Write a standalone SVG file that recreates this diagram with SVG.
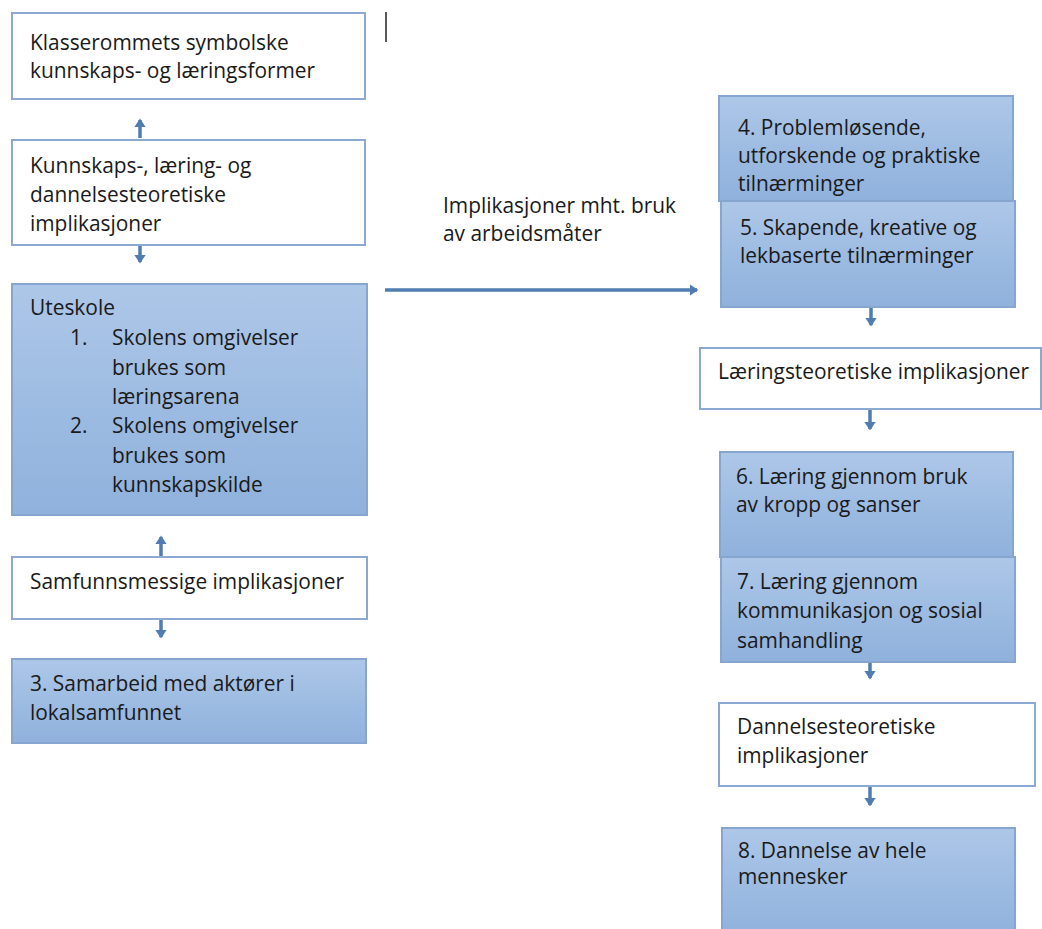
<svg xmlns="http://www.w3.org/2000/svg" width="1042" height="929" viewBox="0 0 1042 929">
<style>
.w{fill:#ffffff;stroke:#8aaad3;stroke-width:2}
.b{fill:url(#g);stroke:#86a6cf;stroke-width:2}
text{font-family:"Open Sans","Liberation Sans",sans-serif;font-size:20.9px;fill:#1a1a1a}
.c{stroke:#4f7db1;stroke-width:3.5;fill:none}
</style>
<defs>
<linearGradient id="g" x1="0" y1="0" x2="0" y2="1">
<stop offset="0" stop-color="#adc7e8"/>
<stop offset="1" stop-color="#8fb1dc"/>
</linearGradient>
<marker id="a" markerWidth="4" markerHeight="4" refX="2" refY="2" orient="auto" markerUnits="strokeWidth">
<path d="M0,0.4 L2.4,2 L0,3.6 Z" fill="#4f7db1"/>
</marker>
</defs>
<line x1="386" y1="12" x2="386" y2="42" stroke="#222" stroke-width="1.5"/>
<g id="n1"><rect class="w" x="12" y="13" width="353" height="86"/>
<text x="30" y="50">Klasserommets symbolske</text><text x="30" y="78">kunnskaps- og læringsformer</text></g>
<g id="n2"><rect class="w" x="12" y="140" width="353" height="105"/>
<text x="30" y="173">Kunnskaps-, læring- og</text><text x="30" y="202">dannelsesteoretiske</text><text x="30" y="231">implikasjoner</text></g>
<g id="n3"><rect class="b" x="12" y="284" width="355" height="231"/>
<text x="30" y="315">Uteskole</text>
<text x="70" y="345">1.</text><text x="112" y="345">Skolens omgivelser</text>
<text x="112" y="375">brukes som</text><text x="112" y="404">læringsarena</text>
<text x="70" y="433">2.</text><text x="112" y="433">Skolens omgivelser</text>
<text x="112" y="463">brukes som</text><text x="112" y="492">kunnskapskilde</text></g>
<g id="n4"><rect class="w" x="12" y="557" width="355" height="62"/>
<text x="30" y="589">Samfunnsmessige implikasjoner</text></g>
<g id="n5"><rect class="b" x="12" y="659" width="354" height="84"/>
<text x="30" y="691">3. Samarbeid med aktører i</text><text x="30" y="720">lokalsamfunnet</text></g>
<g id="n6"><rect class="b" x="719" y="96" width="294" height="105"/>
<text x="738" y="135">4. Problemløsende,</text><text x="738" y="163">utforskende og praktiske</text><text x="738" y="191">tilnærminger</text></g>
<g id="n7"><rect class="b" x="721" y="201" width="294" height="106"/>
<text x="740" y="235">5. Skapende, kreative og</text><text x="740" y="263">lekbaserte tilnærminger</text></g>
<g id="n8"><rect class="w" x="700" y="348" width="341" height="61"/>
<text x="718" y="379">Læringsteoretiske implikasjoner</text></g>
<g id="n9"><rect class="b" x="720" y="452" width="293" height="105"/>
<text x="736" y="484">6. Læring gjennom bruk</text><text x="736" y="512">av kropp og sanser</text></g>
<g id="n10"><rect class="b" x="721" y="557" width="294" height="105"/>
<text x="737" y="589">7. Læring gjennom</text><text x="737" y="618">kommunikasjon og sosial</text><text x="737" y="648">samhandling</text></g>
<g id="n11"><rect class="w" x="719" y="703" width="316" height="83"/>
<text x="737" y="734">Dannelsesteoretiske</text><text x="737" y="763">implikasjoner</text></g>
<g id="n12"><rect class="b" x="722" y="828" width="293" height="110"/>
<text x="738" y="858">8. Dannelse av hele</text><text x="738" y="884">mennesker</text></g>
<g id="lbl"><text x="443" y="213">Implikasjoner mht. bruk</text><text x="443" y="241">av arbeidsmåter</text></g>
<g id="connectors">
<line class="c" x1="140" y1="138" x2="140" y2="120" marker-end="url(#a)"/>
<line class="c" x1="140" y1="246" x2="140" y2="262" marker-end="url(#a)"/>
<line class="c" x1="161" y1="556" x2="161" y2="537" marker-end="url(#a)"/>
<line class="c" x1="161" y1="620" x2="161" y2="637" marker-end="url(#a)"/>
<line class="c" x1="385" y1="290" x2="697" y2="290" marker-end="url(#a)"/>
<line class="c" x1="871" y1="308" x2="871" y2="325" marker-end="url(#a)"/>
<line class="c" x1="870" y1="410" x2="870" y2="429" marker-end="url(#a)"/>
<line class="c" x1="870" y1="663" x2="870" y2="678" marker-end="url(#a)"/>
<line class="c" x1="870" y1="787" x2="870" y2="805" marker-end="url(#a)"/>
</g>
</svg>
